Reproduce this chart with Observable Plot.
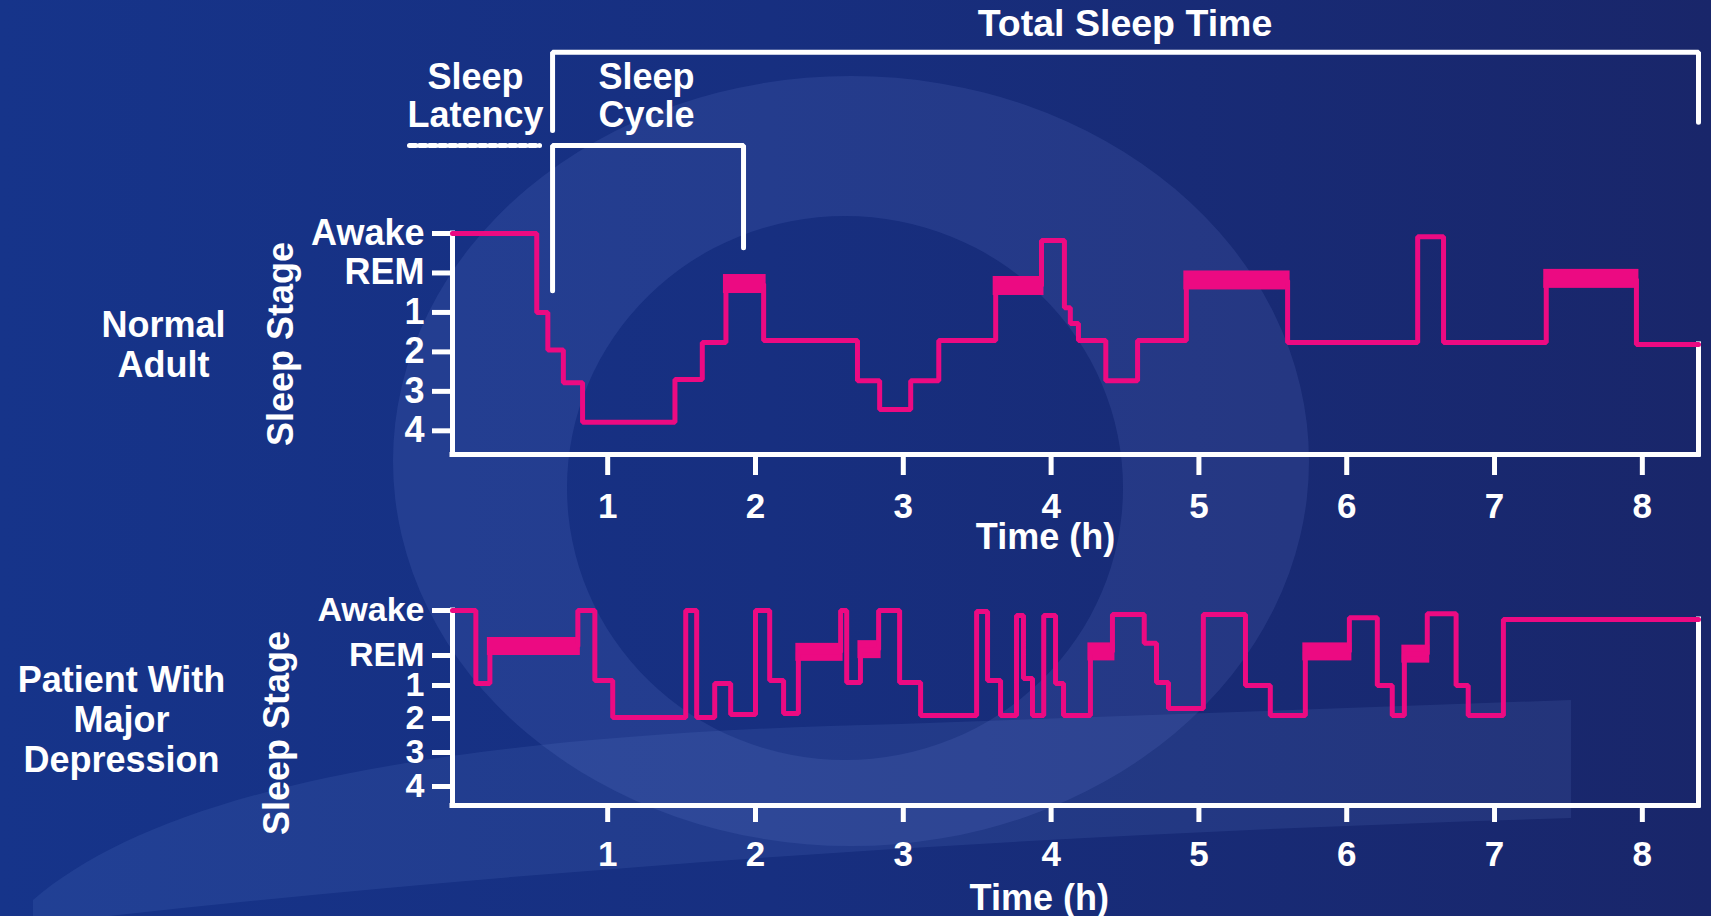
<!DOCTYPE html>
<html>
<head>
<meta charset="utf-8">
<script src="https://cdn.jsdelivr.net/npm/d3@7"></script>
<script src="https://cdn.jsdelivr.net/npm/@observablehq/plot@0.6"></script>
<style>
  html, body { margin: 0; padding: 0; background: #172c78; }
  #stage { position: relative; width: 1711px; height: 916px; overflow: hidden;
    background: linear-gradient(90deg, #16348a 0%, #172f80 45%, #19266a 100%); }
  #bg { position: absolute; left: 0; top: 0; }
  #charts { position: absolute; left: 0; top: 0; display: flex; flex-direction: column; }
  #charts svg { display: block; overflow: visible; }
</style>
</head>
<body>
<div id="stage">
  <svg id="bg" width="1711" height="916">
    <path fill-rule="evenodd" fill="rgba(130,160,235,0.12)"
      d="M 393 461 A 458 385 0 1 0 1309 461 A 458 385 0 1 0 393 461 Z M 567 488 A 278 272 0 1 0 1123 488 A 278 272 0 1 0 567 488 Z"/>
    <path fill="rgba(130,160,235,0.11)"
      d="M 33 900 C 150 800, 400 735, 900 724 L 1571 700 L 1571 818 C 1100 832, 600 862, 109 916 L 33 916 Z"/>
  </svg>
  <div id="charts"></div>
</div>
<script>
// ---------- data ----------
const PINK = "#ec0a82";
const timeDomain = [-0.05, 8.38];            // hours
const timeTicks = [1, 2, 3, 4, 5, 6, 7, 8];
const stageTicks = [0, 1, 2, 3, 4, 5];
const stageNames = ["Awake", "REM", "1", "2", "3", "4"];

// Normal adult hypnogram: step starts (h) and stage depth (0 = Awake ... 5 = stage 4)
const normalTime  = [-0.05, 0.52, 0.595, 0.70, 0.83, 1.455, 1.64, 1.80, 2.055, 2.69, 2.84, 3.05, 3.24, 3.625, 3.935, 4.09, 4.13, 4.185, 4.37, 4.585, 4.915, 5.60, 6.48, 6.655, 7.35, 7.96, 8.38];
const normalStage = [0, 2, 2.95, 3.78, 4.78, 3.7, 2.76, 1.28, 2.71, 3.73, 4.46, 3.73, 2.71, 1.33, 0.18, 1.88, 2.28, 2.71, 3.73, 2.71, 1.19, 2.76, 0.08, 2.76, 1.15, 2.81, 2.81];
const normalRemStart = [1.80, 3.625, 4.915, 7.35];
const normalRemEnd   = [2.055, 3.935, 5.60, 7.96];

// Patient with major depression
const depressedTime  = [-0.05, 0.108, 0.203, 0.798, 0.913, 1.034, 1.528, 1.602, 1.724, 1.832, 2.0, 2.096, 2.19, 2.29, 2.576, 2.617, 2.71, 2.833, 2.975, 3.117, 3.496, 3.57, 3.658, 3.766, 3.813, 3.874, 3.95, 4.03, 4.084, 4.266, 4.415, 4.63, 4.713, 4.794, 5.03, 5.315, 5.483, 5.72, 6.018, 6.207, 6.308, 6.39, 6.545, 6.74, 6.822, 7.06, 8.38];
const depressedStage = [0, 1.93, 0.8, 0, 1.83, 2.97, 0, 2.97, 1.93, 2.88, 0, 1.83, 2.85, 0.93, 0, 1.9, 0.87, 0, 1.9, 2.91, 0.02, 1.83, 2.91, 0.11, 1.77, 2.91, 0.11, 1.93, 2.91, 0.92, 0.09, 0.73, 1.9, 2.7, 0.09, 2.0, 2.91, 0.92, 0.16, 2.0, 2.91, 0.97, 0.07, 2.0, 2.91, 0.2, 0.2];
const depressedRemStart = [0.203, 2.29, 2.71, 4.266, 5.72, 6.39];
const depressedRemEnd   = [0.798, 2.576, 2.833, 4.415, 6.018, 6.545];

// Annotation brackets (time in h, level in stage-depth units of the top chart)
const totalSleepTime  = [0.627, 0.627, 8.38, 8.38];
const totalSleepLevel = [-2.61, -4.59, -4.59, -2.82];
const cycleTime  = [0.627, 0.627, 1.919, 1.919];
const cycleLevel = [1.45, -2.23, -2.23, 0.36];
const latencyTime  = [-0.341, 0.539];
const latencyLevel = [-2.23, -2.23];

// ---------- helpers ----------
const FONT = "'Liberation Sans', Arial, Helvetica, sans-serif";
const style = {fontFamily: FONT, fontWeight: "bold", fontSize: "36px", color: "white", background: "transparent", overflow: "visible"};
const steps = (T, S) => T.map((t, i) => ({t, v: S[i]}));
const blocks = (T, S, A, B) => A.map((a, i) => ({x1: a, x2: B[i], v: S[T.indexOf(a)]}));
const pts = (T, L) => T.map((t, i) => ({t, v: L[i]}));
const W = {stroke: "white", strokeWidth: 5, strokeLinecap: "square"};

function frameMarks(yMax, lastV) {
  return [
    Plot.ruleX([{x: timeDomain[0], y1: 0, y2: yMax}], {x: "x", y1: "y1", y2: "y2", ...W}),
    Plot.ruleY([{y: yMax, x1: timeDomain[0], x2: timeDomain[1]}], {y: "y", x1: "x1", x2: "x2", ...W}),
    Plot.ruleX([{x: timeDomain[1], y1: lastV, y2: yMax}], {x: "x", y1: "y1", y2: "y2", ...W})
  ];
}
function hypnoMarks(T, S, A, B, thick) {
  return [
    Plot.rect(blocks(T, S, A, B), {x1: "x1", x2: "x2", y1: "v", y2: "v", fill: PINK,
      insetTop: -thick / 2, insetBottom: -thick / 2, insetLeft: -2.5, insetRight: -2.5}),
    Plot.line(steps(T, S), {x: "t", y: "v", curve: "step-after", stroke: PINK, strokeWidth: 5, strokeLinejoin: "miter"})
  ];
}

// ---------- top chart: normal adult ----------
const topPlot = Plot.plot({
  width: 1711, height: 570,
  marginLeft: 452, marginRight: 13, marginTop: 233, marginBottom: 116,
  x: {domain: timeDomain, range: [452, 1698]},
  y: {domain: [0, 5.6], range: [233, 454]},
  style,
  marks: [
    ...frameMarks(5.6, normalStage[normalStage.length - 1]),
    Plot.axisX({ticks: timeTicks, tickSize: 21, tickPadding: 18, strokeWidth: 5, color: "white", fontSize: 35, label: null}),
    Plot.axisY({ticks: stageTicks, tickFormat: d => stageNames[d], tickSize: 20, tickPadding: 8, strokeWidth: 5, color: "white", label: null}),
    ...hypnoMarks(normalTime, normalStage, normalRemStart, normalRemEnd, 19),
    Plot.line(pts(totalSleepTime, totalSleepLevel), {x: "t", y: "v", stroke: "white", strokeWidth: 5, strokeLinejoin: "miter"}),
    Plot.line(pts(cycleTime, cycleLevel), {x: "t", y: "v", stroke: "white", strokeWidth: 5, strokeLinejoin: "miter"}),
    Plot.line(pts(latencyTime, latencyLevel), {x: "t", y: "v", stroke: "white", strokeWidth: 5, strokeDasharray: "6.5,3.5"}),
    Plot.text(["Total Sleep Time"], {x: [4.5], y: [-5.0], text: d => d, fill: "white", textAnchor: "middle", lineAnchor: "bottom", fontSize: 37.5}),
    Plot.text(["Sleep\nLatency"], {x: [0.106], y: [-2.69], text: d => d, fill: "white", textAnchor: "middle", lineAnchor: "bottom", lineHeight: 1.07}),
    Plot.text(["Sleep\nCycle"], {x: [0.938], y: [-2.69], text: d => d, fill: "white", textAnchor: "start", lineAnchor: "bottom", lineHeight: 1.07}),
    Plot.text(["Time (h)"], {x: [3.962], frameAnchor: "bottom", dy: 94, text: d => d, fill: "white", textAnchor: "middle", lineAnchor: "bottom"}),
    Plot.text(["Sleep Stage"], {frameAnchor: "left", dx: -171, rotate: -90, text: d => d, fill: "white", textAnchor: "middle", lineAnchor: "middle"}),
    Plot.text(["Normal\nAdult"], {frameAnchor: "left", dx: -289, text: d => d, fill: "white", textAnchor: "middle", lineAnchor: "middle", lineHeight: 1.12})
  ]
});

// ---------- bottom chart: major depression ----------
// stage depth -> vertical position: the hand-drawn axis has a wider Awake–REM gap
const depressedStagePos = d3.scaleLinear().domain([0, 1, 2, 3, 5, 5.56]).range([40, 85, 115, 148, 216, 235]);
const depressedTickPos = stageTicks.map(depressedStagePos);
const depressedTickName = new Map(stageTicks.map(s => [depressedStagePos(s), stageNames[s]]));
const bottomPlot = Plot.plot({
  width: 1711, height: 346,
  marginLeft: 452, marginRight: 13, marginTop: 40, marginBottom: 111,
  x: {domain: timeDomain, range: [452, 1698]},
  y: {transform: depressedStagePos, domain: [40, 235], range: [40, 235]},
  style,
  marks: [
    ...frameMarks(5.56, depressedStage[depressedStage.length - 1]),
    Plot.axisX({ticks: timeTicks, tickSize: 17, tickPadding: 19, strokeWidth: 5, color: "white", fontSize: 35, label: null}),
    Plot.axisY({ticks: depressedTickPos, tickFormat: d => depressedTickName.get(d), tickSize: 20, tickPadding: 8, strokeWidth: 5, color: "white", fontSize: 34, label: null}),
    ...hypnoMarks(depressedTime, depressedStage, depressedRemStart, depressedRemEnd, 18),
    Plot.text(["Time (h)"], {x: [3.92], frameAnchor: "bottom", dy: 104, text: d => d, fill: "white", textAnchor: "middle", lineAnchor: "bottom"}),
    Plot.text(["Sleep Stage"], {frameAnchor: "left", dx: -175, dy: 25, rotate: -90, text: d => d, fill: "white", textAnchor: "middle", lineAnchor: "middle"}),
    Plot.text(["Patient With\nMajor\nDepression"], {frameAnchor: "left", dx: -331, dy: 11, text: d => d, fill: "white", textAnchor: "middle", lineAnchor: "middle", lineHeight: 1.12})
  ]
});

document.getElementById("charts").append(topPlot, bottomPlot);
</script>
</body>
</html>
